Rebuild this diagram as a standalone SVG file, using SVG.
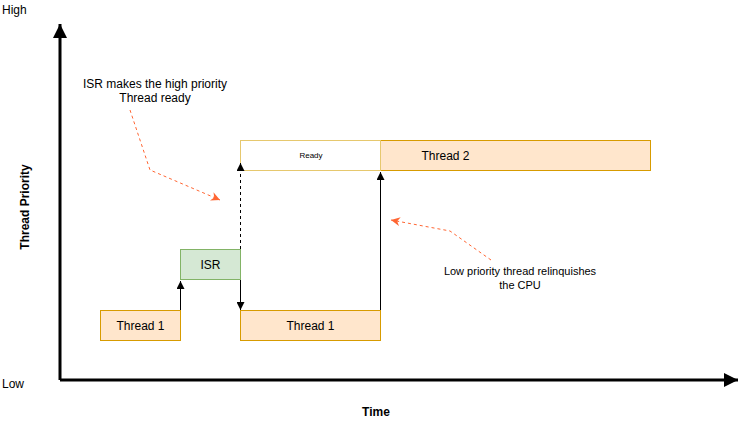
<svg xmlns="http://www.w3.org/2000/svg" width="750" height="424" viewBox="0 0 750 424">
<style>
text{font-family:"Liberation Sans",Arial,sans-serif;fill:#000}
.t12{font-size:12px}
.t11{font-size:11px}
.b{font-weight:bold}
.orange{fill:#ffe6cc;stroke:#d79b00;stroke-width:1}
.green{fill:#d5e8d4;stroke:#82b366;stroke-width:1}
.conn{fill:none;stroke:#000;stroke-width:1}
.axis{fill:none;stroke:#000;stroke-width:3}
.ann{fill:none;stroke:#ff6633;stroke-width:1;stroke-dasharray:3 3}
</style>
<defs>
<marker id="ah" viewBox="0 0 10 10" refX="10" refY="5" markerWidth="8" markerHeight="8" markerUnits="userSpaceOnUse" orient="auto"><path d="M0,0 L10,5 L0,10 z" fill="#000"/></marker>
<marker id="axh" viewBox="0 0 10 10" refX="10" refY="5" markerWidth="14" markerHeight="14" markerUnits="userSpaceOnUse" orient="auto"><path d="M0,0 L10,5 L0,10 z" fill="#000"/></marker>
<marker id="oh" viewBox="0 0 10 10" refX="10" refY="5" markerWidth="9" markerHeight="9" markerUnits="userSpaceOnUse" orient="auto"><path d="M0,0 L10,5 L0,10 L3,5 z" fill="#ff6633"/></marker>
</defs>
<g id="axes">
<path class="axis" d="M60,380 L60,24" marker-end="url(#axh)"/>
<path class="axis" d="M60,380 L738,380" marker-end="url(#axh)"/>
<text class="t12" x="2" y="14">High</text>
<text class="t12" x="2" y="388">Low</text>
<text class="t12 b" transform="translate(29,207) rotate(-90)" text-anchor="middle">Thread Priority</text>
<text class="t12 b" x="376" y="416" text-anchor="middle">Time</text>
</g>
<g id="thread1a"><rect class="orange" x="100.5" y="310.5" width="80" height="30"/><text class="t12" x="140.5" y="330" text-anchor="middle">Thread 1</text></g>
<g id="isr"><rect class="green" x="180.5" y="249.5" width="60" height="30"/><text class="t12" x="210.5" y="269" text-anchor="middle">ISR</text></g>
<g id="thread1b"><rect class="orange" x="240.5" y="310.5" width="140" height="30"/><text class="t12" x="310.5" y="330" text-anchor="middle">Thread 1</text></g>
<g id="thread2"><rect class="orange" x="380.5" y="140.5" width="270" height="30"/><text class="t12" x="445.5" y="160" text-anchor="middle">Thread 2</text></g>
<g id="ready"><rect x="240.5" y="140.5" width="140" height="30" fill="#fff" stroke="#e6c86e"/><text x="311" y="158" text-anchor="middle" style="font-size:8px">Ready</text></g>
<g id="connectors">
<path class="conn" d="M180.5,310 L180.5,281" marker-end="url(#ah)"/>
<path class="conn" d="M240.5,249 L240.5,163" stroke-dasharray="3 3" marker-end="url(#ah)"/>
<path class="conn" d="M240.5,280 L240.5,310" marker-end="url(#ah)"/>
<path class="conn" d="M380.5,310 L380.5,172" marker-end="url(#ah)"/>
<path class="ann" d="M130,110 L150,170 L220,200" marker-end="url(#oh)"/>
<path class="ann" d="M491,260 L450,231 L391,220" marker-end="url(#oh)"/>
</g>
<g id="notes">
<text class="t12" x="155" y="88" text-anchor="middle">ISR makes the high priority</text>
<text class="t12" x="155" y="102" text-anchor="middle">Thread ready</text>
<text class="t11" x="520" y="275" text-anchor="middle">Low priority thread relinquishes</text>
<text class="t11" x="520" y="289" text-anchor="middle">the CPU</text>
</g>
</svg>
